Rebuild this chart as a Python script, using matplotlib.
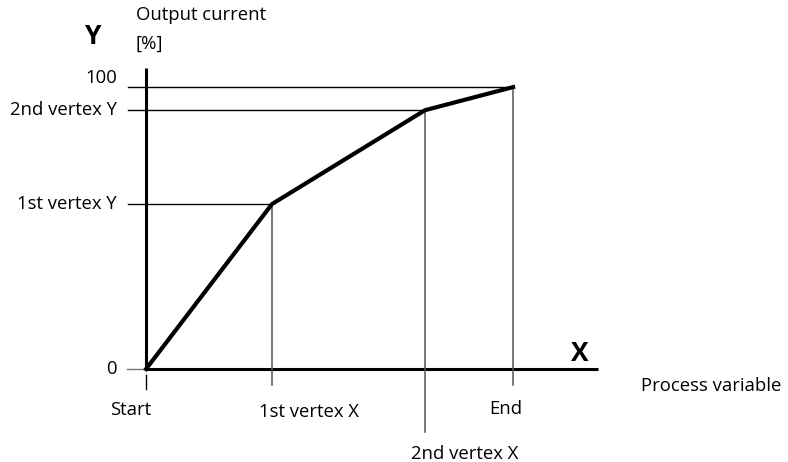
import matplotlib.pyplot as plt

# characteristic curve: start, two vertices, end (percent of range)
x_pts = [0, 34.3, 76.0, 100]
y_pts = [0, 58.5, 91.8, 100]
x_labels = ["Start", "1st vertex X", "2nd vertex X", "End"]
y_labels = ["0", "1st vertex Y", "2nd vertex Y", "100"]

plt.rcParams['font.family'] = ['Open Sans', 'DejaVu Sans']
fs = 13.3

fig = plt.figure(figsize=(7.88, 4.62), dpi=100)
ax = fig.add_axes([0, 0, 1, 1])
ax.set_xlim(-39.8, 174.9)
ax.set_ylim(-33.0, 130.9)
ax.axis("off")

# axes
ax.plot([0, 123.2], [0, 0], color="black", lw=2.2, solid_capstyle="butt")
ax.plot([0, 0], [0, 106.7], color="black", lw=2.2, solid_capstyle="butt")

# guide lines from each vertex to the axes labels
x_ends = [-2.0, -5.7, -22.3, -5.7]
for x, y, yb in zip(x_pts[1:], y_pts[1:], x_ends[1:]):
    ax.plot([x, x], [yb, y], color="#555555", lw=1.1)
for y in y_pts[1:]:
    x_stop = x_pts[y_pts.index(y)]
    ax.plot([-4.9, x_stop], [y, y], color="black", lw=1.0)
ax.plot([-5.2, 0], [0, 0], color="#777777", lw=1.0)
ax.plot([0, 0], [-2.3, -7.2], color="black", lw=1.0)

# the curve
ax.plot(x_pts, y_pts, color="black", lw=3.0, solid_joinstyle="miter")

# x labels
x_lab_y = [-14.5, -15.2, -30.2, -14.2]
x_lab_dx = [-4.1, 10.0, 10.9, -2.0]
for x, lab, ly, dx in zip(x_pts, x_labels, x_lab_y, x_lab_dx):
    ax.text(x + dx, ly, lab, ha="center", va="center", fontsize=fs)

# y labels
y_lab_dy = [0, 0, 0, 3.4]
for y, lab, dy in zip(y_pts, y_labels, y_lab_dy):
    ax.text(-7.9, y + dy, lab, ha="right", va="center", fontsize=fs)

ax.text(-14.5, 118.0, "Y", fontsize=19, fontweight="bold", ha="center", va="center")
ax.text(-2.8, 125.5, "Output current", fontsize=fs, ha="left", va="center")
ax.text(-2.8, 115.5, "[%]", fontsize=fs, ha="left", va="center")
ax.text(118.2, 5.5, "X", fontsize=19, fontweight="bold", ha="center", va="center")
ax.text(134.8, -6.0, "Process variable", fontsize=fs, ha="left", va="center")

fig.savefig("out.png", dpi=100)
